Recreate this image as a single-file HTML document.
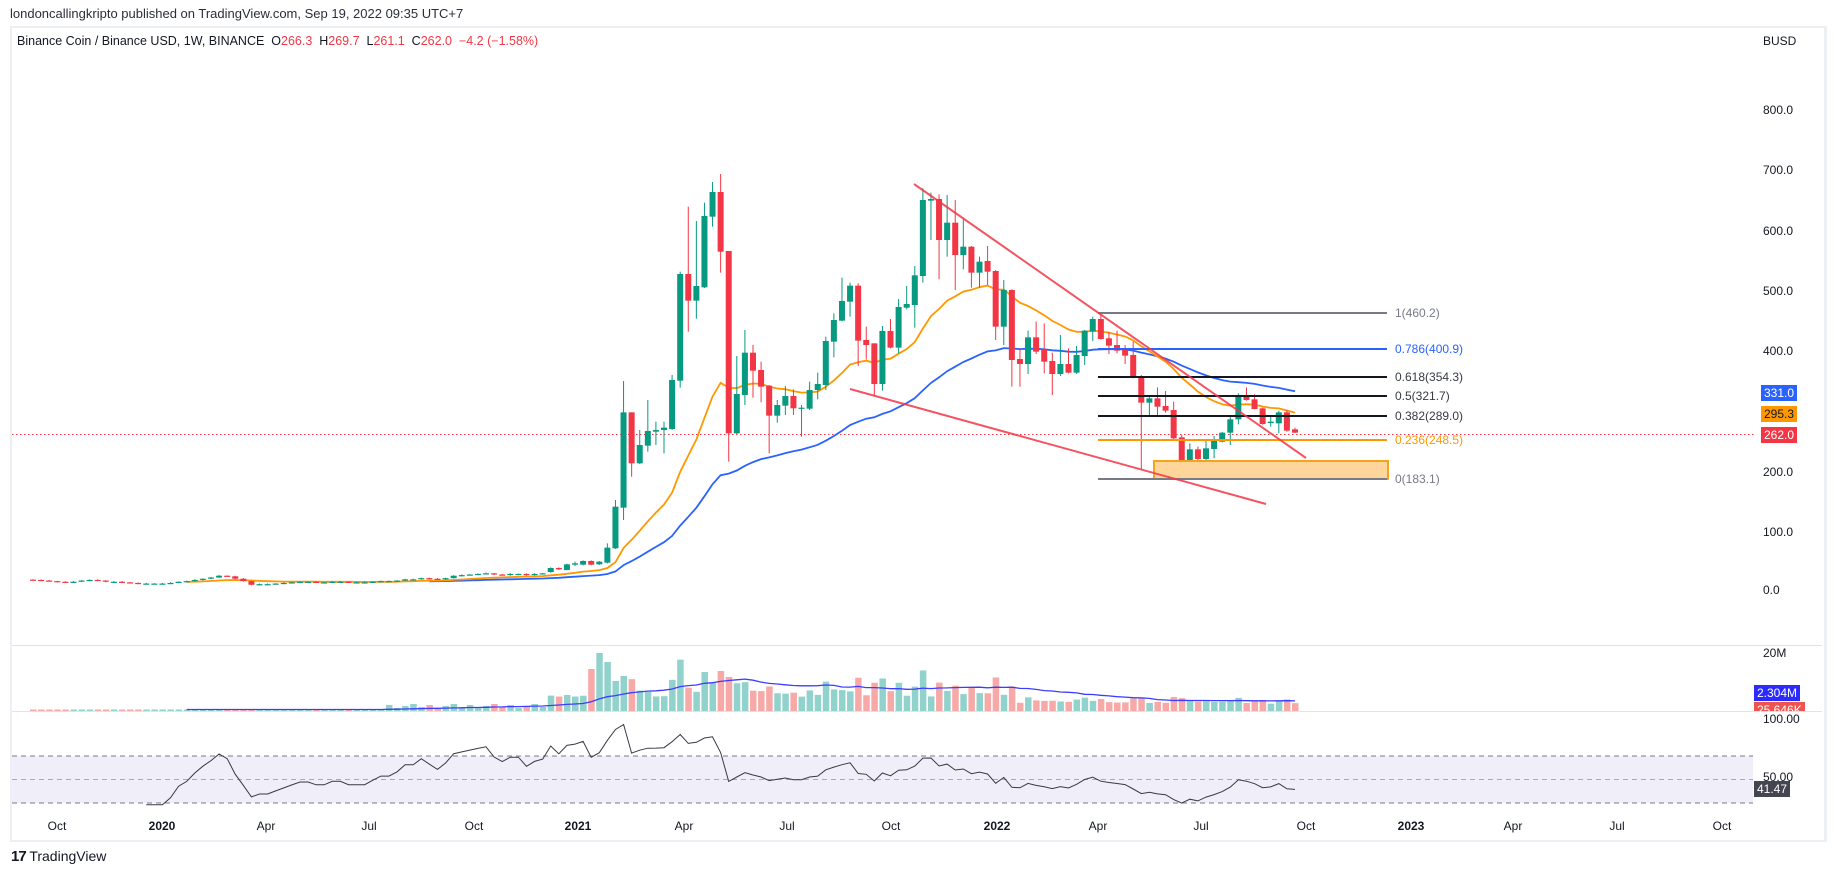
<!DOCTYPE html>
<html><head><meta charset="utf-8">
<style>
html,body{margin:0;padding:0;background:#fff;}
body{width:1834px;height:875px;position:relative;overflow:hidden;font-family:"Liberation Sans",sans-serif;color:#131722;}
.t{position:absolute;white-space:nowrap;font-size:12px;}
#frame{position:absolute;left:10px;top:26px;width:1812px;height:812px;border:2px solid #eceff4;border-right:3px solid #eceff4;}
.ax{position:absolute;font-size:12px;color:#131722;left:1763px;transform:translateY(-50%);}
.tl{position:absolute;top:826px;font-size:12px;transform:translate(-50%,-50%);color:#131722;}
.box{position:absolute;font-size:12px;color:#fff;padding:0 3px;height:16px;line-height:16px;}
</style></head><body>
<div class="t" style="left:10px;top:6px;font-size:13px;color:#2a2e39;">londoncallingkripto published on TradingView.com, Sep 19, 2022 09:35 UTC+7</div>
<div id="frame"></div>
<svg id="s" width="1834" height="875" style="position:absolute;left:0;top:0"></svg>
<div class="t" style="left:17px;top:34px;font-size:12.5px;">Binance Coin / Binance USD, 1W, BINANCE&nbsp; O<span style="color:#f23645">266.3</span>&nbsp; H<span style="color:#f23645">269.7</span>&nbsp; L<span style="color:#f23645">261.1</span>&nbsp; C<span style="color:#f23645">262.0</span>&nbsp; <span style="color:#f23645">−4.2 (−1.58%)</span></div>
<div class="ax" style="top:41px;">BUSD</div>
<div class="ax" style="top:110px;">800.0</div>
<div class="ax" style="top:170px;">700.0</div>
<div class="ax" style="top:231px;">600.0</div>
<div class="ax" style="top:291px;">500.0</div>
<div class="ax" style="top:351px;">400.0</div>
<div class="ax" style="top:472px;">200.0</div>
<div class="ax" style="top:532px;">100.0</div>
<div class="ax" style="top:590px;">0.0</div>
<div class="box" style="left:1761px;top:385px;background:#2962ff;">331.0</div>
<div class="box" style="left:1761px;top:406px;background:#ff9800;color:#131722;">295.3</div>
<div class="box" style="left:1761px;top:427px;background:#f23645;">262.0</div>
<div class="ax" style="top:653px;">20M</div>
<div class="box" style="left:1754px;top:685px;background:#2b2bff;">2.304M</div>
<div style="position:absolute;left:1754px;top:702px;width:59px;height:9px;overflow:hidden;"><div class="box" style="left:0;top:0;background:#ef5350;">25.646K</div></div>
<div class="ax" style="top:719px;">100.00</div>
<div class="ax" style="top:777px;">50.00</div>
<div class="box" style="left:1754px;top:781px;background:#434651;">41.47</div>
<div class="t" style="left:1395px;top:306px;color:#787b86;">1(460.2)</div>
<div class="t" style="left:1395px;top:342px;color:#2962ff;">0.786(400.9)</div>
<div class="t" style="left:1395px;top:370px;color:#363a45;">0.618(354.3)</div>
<div class="t" style="left:1395px;top:389px;color:#363a45;">0.5(321.7)</div>
<div class="t" style="left:1395px;top:409px;color:#363a45;">0.382(289.0)</div>
<div class="t" style="left:1395px;top:433px;color:#ff9800;">0.236(248.5)</div>
<div class="t" style="left:1395px;top:472px;color:#787b86;">0(183.1)</div>
<div class="tl" style="left:57px">Oct</div>
<div class="tl" style="left:162px;font-weight:bold">2020</div>
<div class="tl" style="left:266px">Apr</div>
<div class="tl" style="left:369px">Jul</div>
<div class="tl" style="left:474px">Oct</div>
<div class="tl" style="left:578px;font-weight:bold">2021</div>
<div class="tl" style="left:684px">Apr</div>
<div class="tl" style="left:787px">Jul</div>
<div class="tl" style="left:891px">Oct</div>
<div class="tl" style="left:997px;font-weight:bold">2022</div>
<div class="tl" style="left:1098px">Apr</div>
<div class="tl" style="left:1201px">Jul</div>
<div class="tl" style="left:1306px">Oct</div>
<div class="tl" style="left:1411px;font-weight:bold">2023</div>
<div class="tl" style="left:1513px">Apr</div>
<div class="tl" style="left:1617px">Jul</div>
<div class="tl" style="left:1722px">Oct</div>
<div class="t" style="left:11px;top:848px;font-size:14px;color:#131722;"><b style="font-size:15px;letter-spacing:-1px">17</b> TradingView</div>
<script>
var P=function(p){return 592-0.603*p;};
var early=[20,19,18,17,16,17,19,20,19,17,17,16,15,14,14,14,14,15,17,18,20,22,24,27,26,22,18,12,13,13,14,15,16,17,17,16,16,17,17,16,16,16,17,18,18,19,21,21,23,22,21,23,27,28,29,30,31,29,28,30,30,28,30,31];
var C=[];var prev=20.5;
early.forEach(function(c,i){var o=prev;var h=Math.max(o,c)+0.6+(i%3)*0.3,l=Math.min(o,c)-0.6-(i%2)*0.4;
 C.push({g:c>=o,o:P(o),c:P(c),h:P(h),l:P(l)});prev=c;});
var z4=[['G',1224,1236,1222,1238],['R',1224,1228,1222,1230],['G',1213,1230,1211,1231],['G',1210,1214,1205,1218],['G',1203,1214,1201,1216],['R',1203,1214,1201,1216],['G',1205,1213,1203,1215],['G',1163,1208,1150,1210],['G',1040,1165,1020,1167],['G',757,1043,663,1080],['R',757,910,757,950],['G',855,910,810,912],['G',813,857,720,875],['G',810,815,785,855],['G',803,810,785,880],['G',660,807,645,810],['G',342,662,335,683],['R',342,422,140,515],['G',378,422,183,476],['G',168,382,128,384],['G',96,170,66,200],['R',96,275,42,338],['R',273,820,273,905],['G',702,820,588,822],['G',578,705,510,735],['R',578,632,555,713],['R',630,680,605,727],['R',677,767,675,880],['G',735,767,720,788],['G',708,737,678,765],['R',708,745,688,765],['G',743,746,735,830],['G',690,746,665,750],['G',672,690,638,718],['G',543,675,530,690],['G',480,545,460,592],['G',423,482,353,484],['G',377,425,368,470],['R',377,542,370,618],['R',540,555,500,598],['R',550,672,550,707],['G',513,672,498,692],['R',513,563,477,565],['G',441,563,417,580],['G',432,443,378,448],['G',346,435,318,503],['G',120,348,85,368],['G',117,122,98,240],['R',117,240,103,358],['G',188,240,105,290],['R',188,285,120,390],['G',260,285,175,328],['R',260,338,258,383],['G',305,338,290,383],['R',303,335,258,375],['R',333,500,330,540]];
z4.forEach(function(a){var t=160+a[1]/3,b=160+a[2]/3;C.push({g:a[0]=='G',o:a[0]=='G'?b:t,c:a[0]=='G'?t:b,h:160+a[3]/3,l:160+a[4]/3});});
var z5=[['G',30,140,0,195],['R',30,240,28,320],['R',237,252,205,320],['G',172,252,152,282],['R',172,215,125,222],['R',208,245,130,280],['R',243,282,218,345],['G',252,282,165,288],['R',252,278,205,280],['G',225,278,198,282],['G',152,228,150,255],['G',117,155,110,183],['R',117,177,98,179],['R',175,197,155,222],['R',195,212,152,220],['R',208,227,195,252],['R',225,292,185,295],['R',288,368,285,568],['G',355,368,345,410],['R',355,380,322,405],['R',378,392,333,398],['R',390,475,365,478],['R',472,542,465,598],['G',508,542,490,560],['R',508,537,500,557],['G',505,537,483,540],['G',483,507,468,535],['G',458,485,456,487],['G',418,458,405,495],['G',345,418,340,433],['R',348,360,322,362],['R',358,387,343,388],['R',385,432,383,434],['G',425,429,405,440],['G',397,430,392,460],['R',397,452,390,455],['R',448,458,443,459]];
z5.forEach(function(a){var t=280+a[1]/3,b=280+a[2]/3;C.push({g:a[0]=='G',o:a[0]=='G'?b:t,c:a[0]=='G'?t:b,h:280+a[3]/3,l:280+a[4]/3});});
var N=C.length,sp=(1295-33)/(N-1);function X(i){return 33+sp*i;}
var s='';
s+='<rect x="12" y="756" width="1741" height="47" fill="#f0eef8"/>';
[756,803].forEach(function(y){s+='<line x1="12" x2="1753" y1="'+y+'" y2="'+y+'" stroke="#787b86" stroke-dasharray="5,4"/>';});
s+='<line x1="12" x2="1753" y1="779.5" y2="779.5" stroke="#a9abb3" stroke-dasharray="5,4"/>';
s+='<line x1="12" x2="1822" y1="645.5" y2="645.5" stroke="#e0e3eb"/><line x1="12" x2="1822" y1="711.5" y2="711.5" stroke="#e0e3eb"/>';
s+='<line x1="12" x2="1755" y1="434.5" y2="434.5" stroke="#f23645" stroke-dasharray="1.5,2.5"/>';
var vh=[];
for(var i=0;i<N;i++){var c=C[i],d=Math.abs(c.o-c.c),v;
 if(i<44)v=1.5;else if(i<64)v=3+((i*7)%5);
 else if(i<120)v=Math.min(14+d*0.35,55);else v=7+d*0.25;vh.push(v);}
vh[70]=58;vh[71]=49;vh[69]=42;vh[72]=30;vh[73]=35;vh[86]=34;vh[85]=40;vh[84]=28;
for(var i=0;i<N;i++){s+='<rect x="'+(X(i)-3)+'" y="'+(711-vh[i])+'" width="6.5" height="'+vh[i]+'" fill="'+(C[i].g?'#92d2cc':'#f7a9a7')+'"/>';}
var vm='';for(var i=19;i<N;i++){var a=0;for(var j=i-19;j<=i;j++)a+=vh[j];vm+=(vm?'L':'M')+X(i).toFixed(1)+' '+(711-a/20).toFixed(1);}
s+='<path d="'+vm+'" fill="none" stroke="#3d3dff" stroke-width="1.3"/>';
function ema(n,col){var a=0;for(var j=0;j<n;j++)a+=C[j].c;var e=a/n,k=2/(n+1);var d='M'+X(n-1).toFixed(1)+' '+e.toFixed(1);
 for(var i=n;i<N;i++){e=C[i].c*k+e*(1-k);d+='L'+X(i).toFixed(1)+' '+e.toFixed(1);}return '<path d="'+d+'" fill="none" stroke="'+col+'" stroke-width="1.8"/>';}
s+=ema(50,'#2962ff');s+=ema(20,'#ff9800');
for(var i=0;i<N;i++){var c=C[i],col=c.g?'#089981':'#f23645',x=X(i);var t=Math.min(c.o,c.c),b=Math.max(c.o,c.c);if(b-t<1.2)b=t+1.2;
 s+='<line x1="'+x+'" x2="'+x+'" y1="'+c.h+'" y2="'+c.l+'" stroke="'+col+'" stroke-width="1"/>';
 s+='<rect x="'+(x-3)+'" y="'+t+'" width="6" height="'+(b-t)+'" fill="'+col+'"/>';}
var pr=C.map(function(c){return (592-c.c)/0.603;});var ag=0,al=0,rd='';
for(var i=1;i<N;i++){var ch=pr[i]-pr[i-1],g=ch>0?ch:0,l=ch<0?-ch:0;
 if(i<=14){ag+=g/14;al+=l/14;}else{ag=(ag*13+g)/14;al=(al*13+l)/14;}
 if(i>=14){var r=al==0?100:100-100/(1+ag/al);rd+=(rd?'L':'M')+X(i).toFixed(1)+' '+(779.5-(r-50)*1.175).toFixed(1);}}
s+='<path d="'+rd+'" fill="none" stroke="#363a45" stroke-width="1"/>';
s+='<rect x="1154" y="461" width="234" height="18" fill="#fed59a" stroke="#f7a21b" stroke-width="2"/>';
[[313,'#787b86'],[349,'#2962ff'],[377,'#131722'],[396,'#131722'],[416,'#131722'],[440,'#ff9800'],[479,'#787b86']].forEach(function(f){s+='<line x1="1098" x2="1387" y1="'+f[0]+'" y2="'+f[0]+'" stroke="'+f[1]+'" stroke-width="2"/>';});
s+='<line x1="914" y1="184" x2="1306" y2="458" stroke="#f23645" stroke-width="2" stroke-opacity="0.85"/>';
s+='<line x1="850" y1="389" x2="1266" y2="504" stroke="#f23645" stroke-width="2" stroke-opacity="0.85"/>';
document.getElementById('s').innerHTML=s;
</script>
</body></html>
